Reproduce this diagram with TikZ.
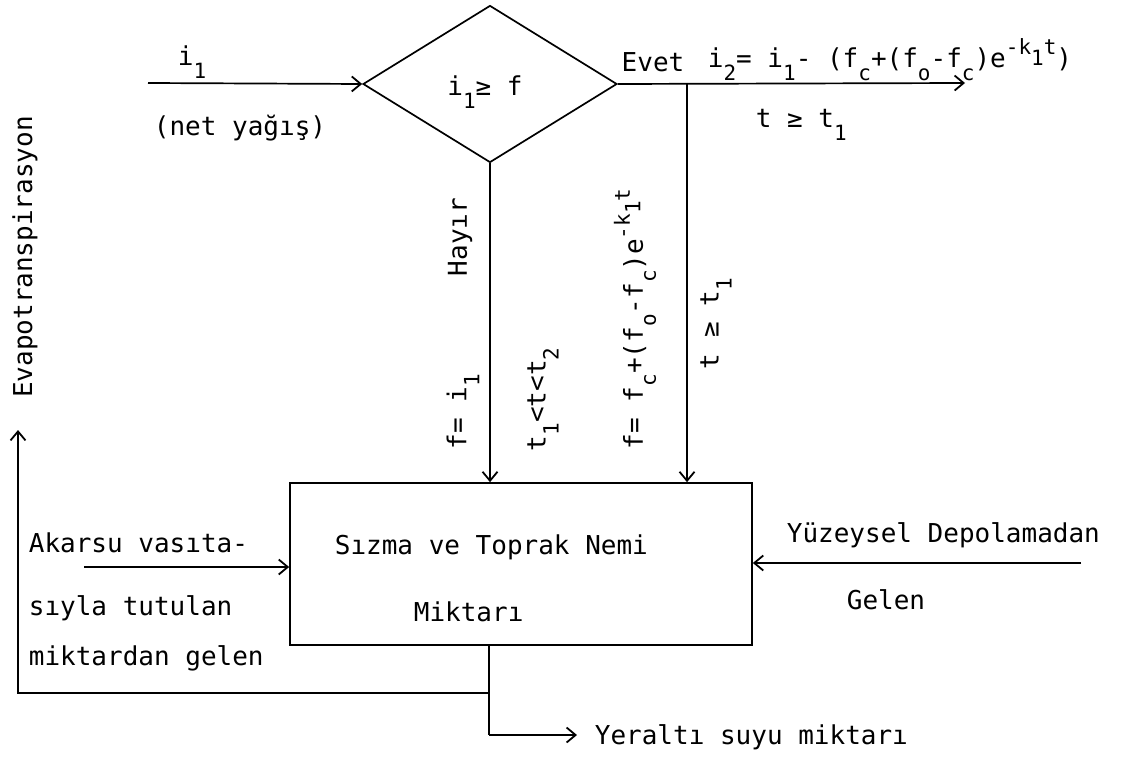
\documentclass[tikz,border=0pt]{standalone}
\usepackage{fontspec}
\setmonofont{DejaVu Sans Mono}
\usetikzlibrary{arrows.meta,shapes.geometric}
% lowered / raised indices in the plotter-style lettering
\newcommand\lo[1]{\raisebox{-0.5em}{\fontsize{21}{21}\selectfont #1}}
\newcommand\hi[1]{\raisebox{0.5em}{\fontsize{21}{21}\selectfont #1}}
\begin{document}
\begin{tikzpicture}[x=1pt,y=-1pt,
  line width=1.7pt,
  >={Straight Barb[length=9pt,width=15pt,line width=1.8pt]},
  lbl/.style={inner sep=0pt, font=\ttfamily\fontsize{26}{30}\selectfont},
  vlbl/.style={lbl, rotate=90, anchor=west},
  flow/.style={->},
  plain/.style={-}]
\useasboundingbox (0,0) rectangle (1127,762);

% decision and store
\node[diamond, draw, minimum width=254pt, minimum height=157pt, inner sep=0pt] (dec) at (490,84) {};
\node[lbl] (cond) at (485,92) {i\lo{1}≥ f};
\node[draw, rectangle, minimum width=462pt, minimum height=162pt, inner sep=0pt] (box) at (521,564) {};
\node[lbl, anchor=west] (s1) at (334,547) {Sızma ve Toprak Nemi};
\node[lbl, anchor=west] (s2) at (413,612) {Miktarı};

% inflow of net rainfall
\coordinate (inA) at (148,83);
\draw[flow] (inA) -- (dec.west);
\node[lbl] (i1) at (192,62) {i\lo{1}};
\node[lbl] (net) at (240,128) {(net yağış)};

% yes branch
\coordinate (outB) at (965,83);
\coordinate (split) at (687,83);
\draw[flow] (dec.east) -- (outB);
\draw[flow] (split) -- (split |- box.north);
\node[lbl] (evet) at (653,62) {Evet};
\node[lbl, anchor=base west] (eq) at (707,68) {i\lo{2}= i\lo{1}- (f\lo{c}+(f\lo{o}-f\lo{c})e\hi{-k\lo{1}t})};
\node[lbl, anchor=west] (cy) at (755,125) {t ≥ t\lo{1}};

% no branch
\draw[flow] (dec.south) -- (dec.south |- box.north);
\node[vlbl] (hay) at (460,277) {Hayır};
\node[vlbl] (fi) at (463,450) {f= i\lo{1}};
\node[vlbl] (tt) at (543,452) {t\lo{1}<t<t\lo{2}};
\node[vlbl] (ff) at (635,450) {f= f\lo{c}+(f\lo{o}-f\lo{c})e\hi{-k\lo{1}t}};
\node[vlbl] (tg) at (716,370) {t ≥ t\lo{1}};

% river inflow
\coordinate (inR) at (84,567);
\draw[flow] (inR) -- (inR -| box.west);
\node[lbl, anchor=west] (a1) at (28,543) {Akarsu vasıta-};
\node[lbl, anchor=west] (a2) at (28,608) {sıyla tutulan};
\node[lbl, anchor=west] (a3) at (28,658) {miktardan gelen};

% surface storage inflow
\coordinate (inS) at (1081,563);
\draw[flow] (inS) -- (inS -| box.east);
\node[lbl, anchor=west] (y1) at (786,535) {Yüzeysel Depolamadan};
\node[lbl] (y2) at (886,600) {Gelen};

% outflows below the store
\coordinate (bot) at (489,645);
\coordinate (ev) at (489,693);
\coordinate (evc) at (18,693);
\coordinate (evt) at (18,430);
\coordinate (gw) at (489,735);
\coordinate (gwt) at (577,735);
\draw[plain] (bot) -- (gw);
\draw[flow] (ev) -- (evc) -- (evt);
\draw[flow] (gw) -- (gwt);
\node[lbl, rotate=90] (evp) at (25,257) {Evapotranspirasyon};
\node[lbl, anchor=west] (yer) at (594,737) {Yeraltı suyu miktarı};
\end{tikzpicture}
\end{document}
